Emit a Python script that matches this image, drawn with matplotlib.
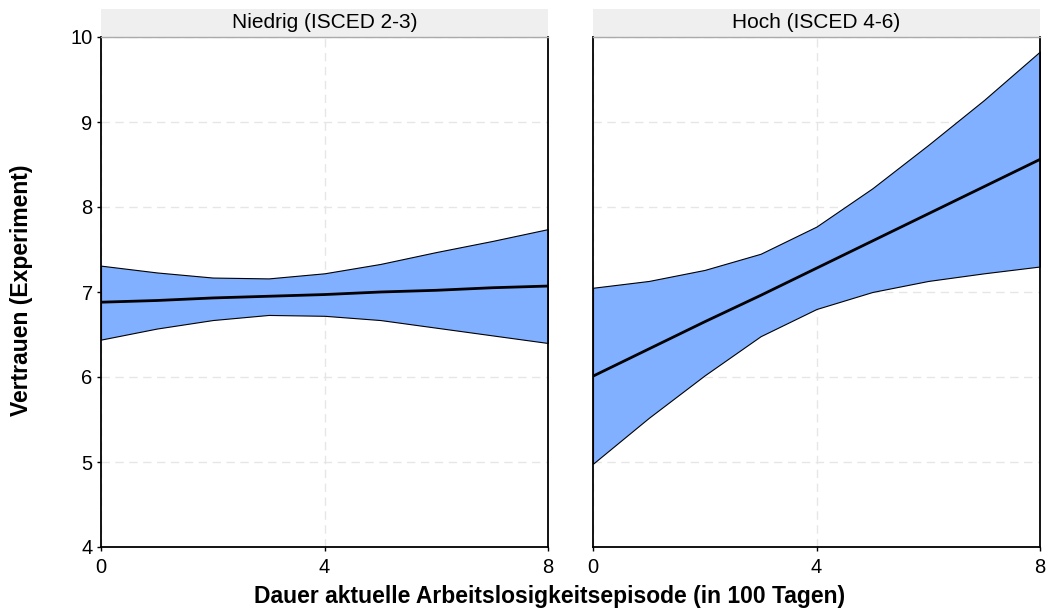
import matplotlib
matplotlib.use("Agg")
import matplotlib.pyplot as plt

# x: Dauer in 100 Tagen
x = [0, 1, 2, 3, 4, 5, 6, 7, 8]

# Niedrig (ISCED 2-3)
low_fit = [6.88, 6.90, 6.93, 6.95, 6.97, 7.00, 7.02, 7.05, 7.07]
low_upper = [7.31, 7.23, 7.17, 7.16, 7.22, 7.33, 7.47, 7.60, 7.74]
low_lower = [6.44, 6.57, 6.67, 6.73, 6.72, 6.67, 6.58, 6.49, 6.40]

# Hoch (ISCED 4-6)
high_fit = [6.01, 6.33, 6.65, 6.96, 7.28, 7.60, 7.92, 8.24, 8.56]
high_upper = [7.05, 7.13, 7.26, 7.45, 7.77, 8.22, 8.73, 9.26, 9.83]
high_lower = [4.98, 5.52, 6.02, 6.48, 6.80, 7.00, 7.13, 7.22, 7.30]

panels = ["Niedrig (ISCED 2-3)", "Hoch (ISCED 4-6)"]
fits = [low_fit, high_fit]
uppers = [low_upper, high_upper]
lowers = [low_lower, high_lower]

y_ticks = [4, 5, 6, 7, 8, 9, 10]
x_ticks = [0, 4, 8]

plt.rcParams["font.family"] = ["Liberation Sans", "DejaVu Sans"]

fig = plt.figure(figsize=(10.46, 6.12), dpi=100)
W, H = 1046, 612
boxes = [(101, 548), (593, 1040)]
top_px, bot_px = 37, 547

for i, (x0, x1) in enumerate(boxes):
    ax = fig.add_axes([x0 / W, 1 - bot_px / H, (x1 - x0) / W, (bot_px - top_px) / H])
    ax.fill_between(x, lowers[i], uppers[i], facecolor="#80b0ff", edgecolor="black",
                    linewidth=0.8, zorder=2)
    ax.plot(x, fits[i], color="black", linewidth=2, zorder=3)
    ax.set_xlim(0, 8)
    ax.set_ylim(4, 10)
    ax.set_xticks(x_ticks)
    ax.set_yticks(y_ticks)
    ax.grid(True, color="#e6e6e6", linestyle=(0, (6, 4)), linewidth=1, zorder=0)
    ax.tick_params(direction="out", length=3, width=1, labelsize=14.5, pad=3)
    ax.tick_params(axis="x", pad=5)
    for s in ["left", "right", "bottom"]:
        ax.spines[s].set_linewidth(1.3)
        ax.spines[s].set_color("black")
    ax.spines["top"].set_color("#aaaaaa")
    ax.spines["top"].set_linewidth(1)
    if i == 1:
        ax.tick_params(axis="y", left=False, labelleft=False)
    # strip
    strip_h = 28 / (bot_px - top_px)
    ax.add_patch(plt.Rectangle((0, 1), 1, strip_h, transform=ax.transAxes,
                               facecolor="#efefef", edgecolor="none", clip_on=False))
    ax.text(0.5, 1 + strip_h / 2, panels[i], transform=ax.transAxes, ha="center",
            va="center", fontsize=15)

fig.text(550 / W, 1 - 597 / H, "Dauer aktuelle Arbeitslosigkeitsepisode (in 100 Tagen)",
         ha="center", va="center", fontsize=16.5, fontweight="bold")
fig.text(22 / W, 1 - 290 / H, "Vertrauen (Experiment)", rotation=90, ha="center",
         va="center", fontsize=16.5, fontweight="bold")

fig.savefig("out.png", dpi=100)
